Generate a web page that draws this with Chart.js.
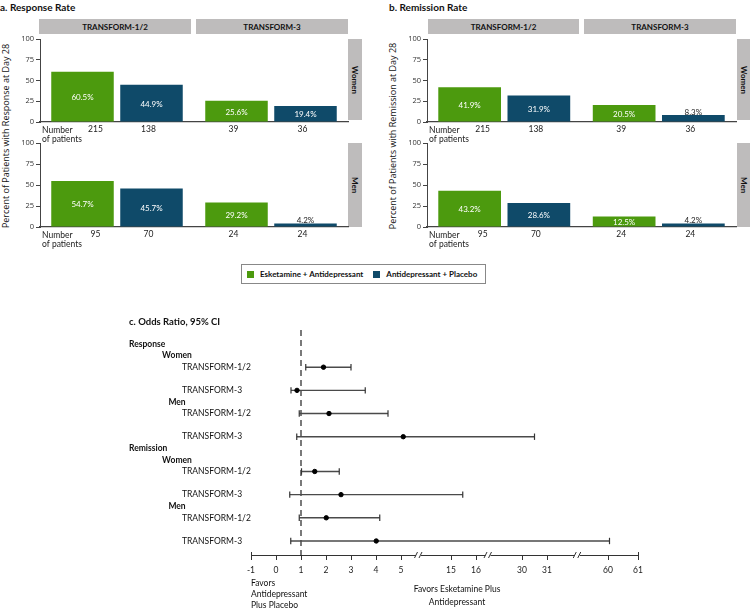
<!DOCTYPE html>
<html>
<head>
<meta charset="utf-8">
<script src="https://cdn.jsdelivr.net/npm/chart.js@4.4.1/dist/chart.umd.min.js"></script>
<style>
  body { margin: 0; background: #fff; }
  #wrap { position: relative; width: 752px; height: 610px; overflow: hidden; font-family: Lato, sans-serif; color: #111; }
  #wrap canvas { position: absolute; }
  .t { position: absolute; white-space: nowrap; font-size: 8.5px; }
  .title { position: absolute; white-space: nowrap; font-weight: bold; font-size: 10px; }
  .strip { position: absolute; background: #bebcbc; font-weight: bold; font-size: 8px; display: flex; align-items: center; justify-content: center; }
  .side { writing-mode: vertical-rl; }
  .ytitle { position: absolute; width: 400px; height: 12px; line-height: 12px; font-family: 'Open Sans', sans-serif; font-size: 9px; text-align: center; transform: rotate(-90deg); color: #111; }
  .legend { position: absolute; left: 241px; top: 264px; width: 243px; height: 18px; border: 1px solid #888; display: flex; align-items: center; font-weight: bold; font-size: 8px; }
  .sw { display: inline-block; width: 7px; height: 7px; margin: 0 6px 0 5px; }
</style>
</head>
<body>
<div id="wrap">
  <div class="title" style="left:0;top:1px">a. Response Rate</div>
  <div class="title" style="left:389px;top:1px">b. Remission Rate</div>

  <div class="strip" style="left:39px;top:19px;width:152px;height:15px">TRANSFORM-1/2</div>
  <div class="strip" style="left:196px;top:19px;width:152px;height:15px">TRANSFORM-3</div>
  <div class="strip" style="left:428px;top:19px;width:151px;height:15px">TRANSFORM-1/2</div>
  <div class="strip" style="left:584px;top:19px;width:152px;height:15px">TRANSFORM-3</div>

  <div class="strip side" style="left:348px;top:39px;width:14px;height:81px">Women</div>
  <div class="strip side" style="left:348px;top:143px;width:14px;height:84px">Men</div>
  <div class="strip side" style="left:737px;top:39px;width:13px;height:81px">Women</div>
  <div class="strip side" style="left:737px;top:143px;width:13px;height:84px">Men</div>

  <div class="ytitle" style="left:-194px;top:130px">Percent of Patients with Response at Day 28</div>
  <div class="ytitle" style="left:193px;top:130px">Percent of Patients with Remission at Day 28</div>

  <canvas id="aWomen" width="336" height="117" style="left:14px;top:30px"></canvas>
  <canvas id="aMen" width="336" height="118" style="left:14px;top:134px"></canvas>
  <canvas id="bWomen" width="337" height="117" style="left:401px;top:30px"></canvas>
  <canvas id="bMen" width="337" height="118" style="left:401px;top:134px"></canvas>

  <div class="legend">
    <span class="sw" style="background:#4c9a0e"></span>Esketamine + Antidepressant
    <span class="sw" style="background:#0f4a69;margin-left:10px"></span>Antidepressant + Placebo
  </div>

  <canvas id="forest" width="752" height="310" style="left:0;top:300px"></canvas>
  <div class="title" style="left:129px;top:316px;font-size:9.5px">c. Odds Ratio, 95% CI</div>

  <div class="t" style="left:251px;top:578px;line-height:11px">Favors<br>Antidepressant<br>Plus Placebo</div>
  <div class="t" style="left:407px;width:100px;top:583px;line-height:12.5px;text-align:center">Favors Esketamine Plus<br>Antidepressant</div>
</div>

<script>
// dados das barras
const studies = ['TRANSFORM-1/2', 'TRANSFORM-3'];
const seriesNames = ['Esketamine + Antidepressant', 'Antidepressant + Placebo'];
const yTicks = [0, 25, 50, 75, 100];

const responseWomenEsk = [60.5, 25.6];
const responseWomenPlac = [44.9, 19.4];
const responseMenEsk = [54.7, 29.2];
const responseMenPlac = [45.7, 4.2];
const remissionWomenEsk = [41.9, 20.5];
const remissionWomenPlac = [31.9, 8.3];
const remissionMenEsk = [43.2, 12.5];
const remissionMenPlac = [28.6, 4.2];

const womenEskN = [215, 39];
const womenPlacN = [138, 36];
const menEskN = [95, 24];
const menPlacN = [70, 24];

// dados do forest plot
const forestRows = ['Response', 'Women', 'TRANSFORM-1/2', '', 'TRANSFORM-3', 'Men', 'TRANSFORM-1/2', '', 'TRANSFORM-3',
  'Remission', 'Women', 'TRANSFORM-1/2', '', 'TRANSFORM-3', 'Men', 'TRANSFORM-1/2', '', 'TRANSFORM-3'];
const oddsRatio = [1.9, 0.84, 2.12, 5.09, 1.55, 2.6, 2.01, 4.01];
const ciLow = [1.19, 0.6, 0.93, 0.83, 1.02, 0.55, 0.93, 0.59];
const ciHigh = [3.0, 3.57, 4.48, 30.5, 2.53, 15.47, 4.15, 60.05];
const oddsTicks = [-1, 0, 1, 2, 3, 4, 5, 15, 16, 30, 31, 60, 61];

// eixo quebrado: posição de cada tick no eixo
const tickSlots = [-1, 0, 1, 2, 3, 4, 5, 7, 8, 9.84, 10.84, 13.28, 14.48];
const breakSlots = [5.7, 8.48, 12.05];

const GREEN = '#4c9a0e';
const BLUE = '#0f4a69';
const AXIS = '#444';

function hasBreak(a, b) {
  return breakSlots.some(s => s > a && s < b);
}

function toSlot(v) {
  for (let i = 0; i < oddsTicks.length - 1; i++) {
    const a = oddsTicks[i], b = oddsTicks[i + 1];
    if (v < a || v > b) continue;
    const sa = tickSlots[i], sb = tickSlots[i + 1];
    if (!hasBreak(sa, sb)) return sa + (v - a) / (b - a) * (sb - sa);
    return (v - a < b - v) ? sa + (v - a) : sb - (b - v);
  }
  return v;
}

function barPlugin(counts) {
  return {
    id: 'barText',
    afterDatasetsDraw(chart) {
      const ctx = chart.ctx;
      const area = chart.chartArea;
      ctx.save();
      ctx.textAlign = 'center';
      chart.data.datasets.forEach((ds, d) => {
        chart.getDatasetMeta(d).data.forEach((bar, i) => {
          const v = ds.data[i];
          const txt = v.toFixed(1) + '%';
          ctx.font = '8px Lato';
          if (v >= 10) {
            ctx.fillStyle = '#fff';
            ctx.textBaseline = 'middle';
            ctx.fillText(txt, bar.x, (bar.y + bar.base) / 2 + 1);
          } else {
            ctx.fillStyle = '#222';
            ctx.textBaseline = 'bottom';
            ctx.fillText(txt, bar.x, bar.y + 1);
          }
          // numero de pacientes
          ctx.fillStyle = '#222';
          ctx.textBaseline = 'middle';
          ctx.font = '8.5px Lato';
          const nx = (d === 0 && i === 0) ? bar.x + 13 : bar.x - 3;
          ctx.fillText(String(counts[d][i]), nx, area.bottom + 7);
        });
      });
      ctx.font = '8.5px Lato';
      ctx.textAlign = 'left';
      ctx.fillStyle = '#222';
      ctx.fillText('Number', area.left + 2, area.bottom + 8);
      ctx.fillText('of patients', area.left + 2, area.bottom + 17);
      ctx.restore();
    }
  };
}

function makeBars(id, esk, plac, eskN, placN) {
  new Chart(document.getElementById(id), {
    type: 'bar',
    data: {
      labels: studies,
      datasets: [
        { label: seriesNames[0], data: esk, backgroundColor: GREEN },
        { label: seriesNames[1], data: plac, backgroundColor: BLUE }
      ]
    },
    options: {
      responsive: false,
      animation: false,
      categoryPercentage: 0.896,
      barPercentage: 0.906,
      layout: { padding: { top: 9, bottom: 25, right: 2, left: 0 } },
      plugins: { legend: { display: false }, tooltip: { enabled: false } },
      scales: {
        x: {
          grid: { display: false },
          ticks: { display: false },
          border: { color: AXIS, width: 1.2 },
          afterFit: s => { s.height = 0; }
        },
        y: {
          min: 0,
          max: 100,
          afterBuildTicks: s => { s.ticks = yTicks.map(v => ({ value: v })); },
          grid: { drawOnChartArea: false, tickLength: 4, color: AXIS },
          border: { color: AXIS },
          ticks: { font: { family: 'Open Sans', size: 7.5 }, color: '#333', padding: 2 },
          afterFit: s => { s.width = 26; }
        }
      }
    },
    plugins: [barPlugin([eskN, placN])]
  });
}

makeBars('aWomen', responseWomenEsk, responseWomenPlac, womenEskN, womenPlacN);
makeBars('aMen', responseMenEsk, responseMenPlac, menEskN, menPlacN);
makeBars('bWomen', remissionWomenEsk, remissionWomenPlac, womenEskN, womenPlacN);
makeBars('bMen', remissionMenEsk, remissionMenPlac, menEskN, menPlacN);

// forest plot
const rowIdx = forestRows.map((r, i) => r.startsWith('TRANSFORM') ? i : -1).filter(i => i >= 0);

const pointSet = {
  data: oddsRatio.map((v, k) => ({ x: toSlot(v), y: rowIdx[k] })),
  pointStyle: 'circle',
  pointRadius: 2.2,
  backgroundColor: '#000',
  borderColor: '#000'
};

const whiskerSets = oddsRatio.map((v, k) => ({
  data: [{ x: toSlot(ciLow[k]), y: rowIdx[k] }, { x: toSlot(ciHigh[k]), y: rowIdx[k] }],
  showLine: true,
  borderColor: '#4a4a4a',
  borderWidth: 1.4,
  pointStyle: 'line',
  pointRotation: 90,
  pointRadius: 3.2,
  pointBorderWidth: 1.2,
  pointBorderColor: '#333'
}));

const forestPlugin = {
  id: 'forestExtras',
  beforeDatasetsDraw(chart) {
    const ctx = chart.ctx;
    const x = chart.scales.x.getPixelForValue(toSlot(1));
    ctx.save();
    ctx.strokeStyle = '#222';
    ctx.lineWidth = 1.2;
    ctx.setLineDash([6, 4]);
    ctx.beginPath();
    ctx.moveTo(x, chart.chartArea.top);
    ctx.lineTo(x, chart.chartArea.bottom + 4);
    ctx.stroke();
    ctx.restore();
  },
  afterDraw(chart) {
    const ctx = chart.ctx;
    const xs = chart.scales.x, ys = chart.scales.y;
    const yAxis = chart.chartArea.bottom;
    ctx.save();
    // tampas nas pontas do eixo
    ctx.strokeStyle = '#333';
    ctx.lineWidth = 1;
    [xs.min, xs.max].forEach(v => {
      const px = Math.round(xs.getPixelForValue(v)) + 0.5;
      ctx.beginPath();
      ctx.moveTo(px, yAxis - 3);
      ctx.lineTo(px, yAxis + 4);
      ctx.stroke();
    });
    // quebras do eixo
    breakSlots.forEach(s => {
      const px = xs.getPixelForValue(s);
      ctx.fillStyle = '#fff';
      ctx.fillRect(px - 2.5, yAxis - 2, 5, 4);
      ctx.beginPath();
      ctx.moveTo(px - 4, yAxis + 3);
      ctx.lineTo(px - 1, yAxis - 3);
      ctx.moveTo(px + 0.5, yAxis + 3);
      ctx.lineTo(px + 3.5, yAxis - 3);
      ctx.stroke();
    });
    // rótulos das linhas
    ctx.fillStyle = '#111';
    ctx.textBaseline = 'middle';
    forestRows.forEach((r, i) => {
      if (!r) return;
      const py = ys.getPixelForValue(i);
      if (r === 'Response' || r === 'Remission') {
        ctx.font = 'bold 8.5px Lato';
        ctx.textAlign = 'left';
        ctx.fillText(r, 129, py);
      } else if (r === 'Women' || r === 'Men') {
        ctx.font = 'bold 8.5px Lato';
        ctx.textAlign = 'center';
        ctx.fillText(r, 177, py);
      } else {
        ctx.font = '8.5px Lato';
        ctx.textAlign = 'left';
        ctx.fillText(r, 182, py);
      }
    });
    ctx.restore();
  }
};

new Chart(document.getElementById('forest'), {
  type: 'scatter',
  data: { datasets: [pointSet, ...whiskerSets] },
  options: {
    responsive: false,
    animation: false,
    layout: { padding: { left: 251, right: 114, top: 30, bottom: 35 } },
    plugins: { legend: { display: false }, tooltip: { enabled: false } },
    scales: {
      x: {
        type: 'linear',
        min: tickSlots[0],
        max: tickSlots[tickSlots.length - 1],
        afterBuildTicks: s => { s.ticks = tickSlots.map(v => ({ value: v })); },
        ticks: {
          autoSkip: false,
          maxRotation: 0,
          padding: 5,
          font: { family: 'Lato', size: 8.5 },
          color: '#222',
          callback: (v, i) => oddsTicks[i]
        },
        grid: { drawOnChartArea: false, tickLength: 5, color: '#333' },
        border: { color: '#333', width: 1 },
        afterFit: s => { s.height = 20; }
      },
      y: {
        type: 'linear',
        reverse: true,
        min: -1.21,
        max: 18.21,
        display: false
      }
    }
  },
  plugins: [forestPlugin]
});
</script>
</body>
</html>
